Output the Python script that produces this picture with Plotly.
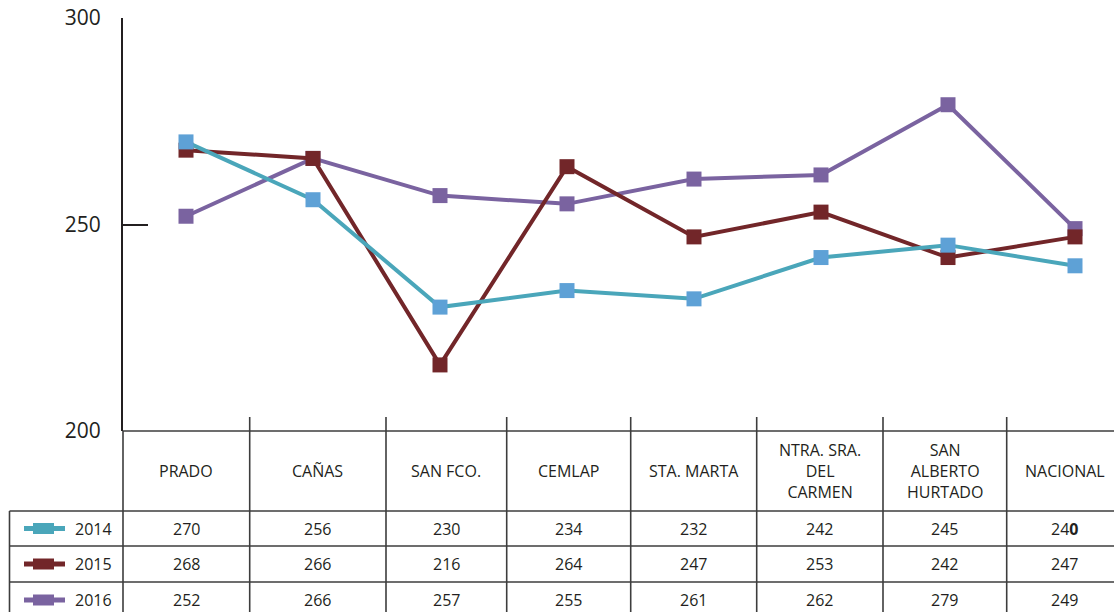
import plotly.graph_objects as go

# ---------------- data ----------------
categories = ["PRADO", "CAÑAS", "SAN FCO.", "CEMLAP", "STA. MARTA",
              "NTRA. SRA. DEL CARMEN", "SAN ALBERTO HURTADO", "NACIONAL"]
header_labels = ["PRADO", "CAÑAS", "SAN FCO.", "CEMLAP", "STA. MARTA",
                 "NTRA. SRA.<br>DEL<br>CARMEN", "SAN<br>ALBERTO<br>HURTADO", "NACIONAL"]
years = ["2014", "2015", "2016"]
v2014 = [270, 256, 230, 234, 232, 242, 245, 240]
v2015 = [268, 266, 216, 264, 247, 253, 242, 247]
v2016 = [252, 266, 257, 255, 261, 262, 279, 249]
y_ticks = [200, 250, 300]

# ---------------- styling / layout ----------------
W, H = 1114, 612
ML, MR, MT, MB = 123, 0, 18, 181
PW = W - ML - MR
PH = H - MT - MB
FIRST_PX, STEP_PX = 186, 127          # pixel centre of first category, spacing
x_lo = (ML - FIRST_PX) / STEP_PX
x_hi = (W - MR - FIRST_PX) / STEP_PX
# table column edges (pixels)
COL_EDGES = [123, 249.7, 386, 506.7, 630.7, 756.7, 883, 1006.7, 1123]

def xp(px):
    return (px - ML) / PW

def yp(py):
    return (H - MB - py) / PH

def cell_center(i):
    return (COL_EDGES[i] + COL_EDGES[i + 1]) / 2

TXT = "#231f20"
GRID = "#3d3d3d"
FONT = "Open Sans"

series = [
    ("2016", v2016, "#7a63a0", "#7a63a0"),
    ("2015", v2015, "#722629", "#722629"),
    ("2014", v2014, "#4aa6ba", "#5ea1d6"),
]

fig = go.Figure()
xs = list(range(len(categories)))
for name, vals, lc, mc in series:
    fig.add_trace(go.Scatter(
        x=xs, y=vals, name=name, mode="lines+markers",
        line=dict(color=lc, width=4),
        marker=dict(symbol="square", size=15, color=mc),
        hovertext=categories, showlegend=False, cliponaxis=False))

shapes = []
annotations = []
line_style = dict(color=GRID, width=1.6)

header_top = 431
row_lines = [511, 546, 582]
row_centers = [528.5, 564, 600]
bottom = 620

# y-axis line continuing down as the table's left border
shapes.append(dict(type="line", xref="paper", yref="paper",
                   x0=xp(ML), x1=xp(ML), y0=yp(header_top), y1=yp(bottom),
                   line=line_style))
# header top line
shapes.append(dict(type="line", xref="paper", yref="paper",
                   x0=xp(ML), x1=1.0, y0=yp(header_top), y1=yp(header_top),
                   line=line_style))
# row lines
for ry in row_lines:
    shapes.append(dict(type="line", xref="paper", yref="paper",
                       x0=xp(9.5), x1=1.0, y0=yp(ry), y1=yp(ry), line=line_style))
# legend column left border
shapes.append(dict(type="line", xref="paper", yref="paper",
                   x0=xp(9.5), x1=xp(9.5), y0=yp(row_lines[0]), y1=yp(bottom),
                   line=line_style))
# column boundaries (with small tick above the header)
for bx in COL_EDGES[1:-1]:
    shapes.append(dict(type="line", xref="paper", yref="paper",
                       x0=xp(bx), x1=xp(bx), y0=yp(417), y1=yp(bottom),
                       line=line_style))

# header labels
for i, lab in enumerate(header_labels):
    annotations.append(dict(xref="paper", yref="paper", x=xp(cell_center(i)), y=yp(471),
                            text=lab, showarrow=False, xanchor="center", yanchor="middle",
                            font=dict(family=FONT, size=16, color=TXT)))

# value rows with legend keys
rows = [("2014", v2014, "#4aa6ba"), ("2015", v2015, "#722629"), ("2016", v2016, "#7a63a0")]
for (name, vals, col), cy in zip(rows, row_centers):
    shapes.append(dict(type="line", xref="paper", yref="paper",
                       x0=xp(24), x1=xp(65), y0=yp(cy), y1=yp(cy),
                       line=dict(color=col, width=5)))
    shapes.append(dict(type="rect", xref="paper", yref="paper",
                       x0=xp(33), x1=xp(54), y0=yp(cy - 5.5), y1=yp(cy + 5.5),
                       line=dict(width=0), fillcolor=col))
    annotations.append(dict(xref="paper", yref="paper", x=xp(73), y=yp(cy),
                            text=name, showarrow=False, xanchor="left", yanchor="middle",
                            font=dict(family=FONT, size=16, color=TXT)))
    for i, v in enumerate(vals):
        txt = str(v)
        if name == "2014" and categories[i] == "NACIONAL":
            txt = txt[:-1] + "<b>" + txt[-1] + "</b>"
        annotations.append(dict(xref="paper", yref="paper", x=xp(cell_center(i)), y=yp(cy),
                                text=txt, showarrow=False, xanchor="center", yanchor="middle",
                                font=dict(family=FONT, size=16, color=TXT)))

fig.update_layout(
    width=W, height=H,
    margin=dict(l=ML, r=MR, t=MT, b=MB, pad=0, autoexpand=False),
    paper_bgcolor="white", plot_bgcolor="white",
    showlegend=False,
    shapes=shapes, annotations=annotations,
    xaxis=dict(range=[x_lo, x_hi], visible=False, fixedrange=True),
    yaxis=dict(range=[200, 300], tickvals=y_ticks, ticks="inside", ticklen=25,
               tickwidth=2, tickcolor=TXT, showline=True, linecolor=TXT, linewidth=2,
               showgrid=False, zeroline=False, ticklabelstandoff=16,
               tickfont=dict(family=FONT, size=21, color=TXT), fixedrange=True),
)

fig.write_html(
    "out.html",
    config={"displayModeBar": False},
    post_script="document.body.style.margin='0px';document.body.style.overflow='hidden';",
)
